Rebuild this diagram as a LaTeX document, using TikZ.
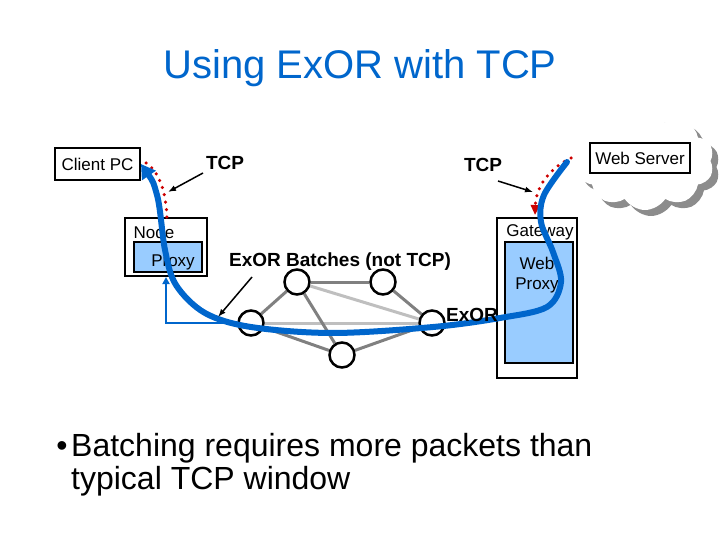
\documentclass[tikz,border=0pt]{standalone}
\usepackage{fontspec}
\setmainfont{Liberation Sans}
\usetikzlibrary{arrows.meta,shapes.symbols,backgrounds}
\definecolor{exorblue}{RGB}{0,102,204}
\definecolor{proxyfill}{RGB}{153,204,255}
\definecolor{dotred}{RGB}{204,0,0}
\tikzset{
  box/.style={draw=black, line width=2pt, inner sep=2pt, align=center, font=\fontsize{17}{20}\selectfont},
  proxybox/.style={box, fill=proxyfill, line width=2.5pt},
  tag/.style={inner sep=0pt, align=center, font=\fontsize{17}{20}\selectfont},
  boldtag/.style={inner sep=0pt, font=\fontsize{19}{22}\selectfont\bfseries},
  hop/.style={circle, draw=black, fill=white, line width=2.5pt, minimum size=25pt, inner sep=0pt},
  link/.style={draw=black!50, line width=3pt},
  weaklink/.style={draw=black!25, line width=3pt},
  flow/.style={exorblue, line width=6pt, {Triangle[length=14pt,width=16pt]}-, line cap=round},
  proxyarrow/.style={exorblue, line width=2pt, -{Triangle[length=7pt,width=7pt]}},
  arrow/.style={-{Latex[length=8pt,width=6pt]}, line width=1.5pt},
  tcpdots/.style={dotred, line width=3.5pt, line cap=round, dash pattern=on 0pt off 7.5pt},
  cloudy/.style={cloud, cloud puffs=10, cloud puff arc=115, minimum width=138pt, minimum height=98pt, inner sep=0pt}
}

\begin{document}
\begin{tikzpicture}[x=1pt, y=-1pt]
\useasboundingbox (0,0) rectangle (720,540);
\node[font=\fontsize{40}{44}\selectfont, text=exorblue] (title) at (360,68) {Using ExOR with TCP};

% web server in the cloud
\node[cloudy, fill=black!45] (cloudshade) at (651,167) {};
\node[cloudy, fill=white] (cloud) at (645,161) {};
\node[box, minimum width=100pt, minimum height=30pt] (server) at (640,158) {Web Server};

% end hosts and proxies
\node[box, minimum width=85pt, minimum height=32pt] (client) at (97.5,164) {Client PC};
\node[box, minimum width=82pt, minimum height=58pt] (nodebox) at (166,247) {};
\node[proxybox, minimum width=68pt, minimum height=30pt] (proxy) at (168,257) {};
\node[tag] (nodetag) at (154,232) {Node};
\node[tag] (proxytag) at (173,262) {Proxy};
\node[box, line width=1.5pt, minimum width=80pt, minimum height=160pt] (gateway) at (537,298) {};
\node[proxybox, line width=2pt, minimum width=68pt, minimum height=121pt] (webproxy) at (539,302.5) {};
\node[tag] (gatewaytag) at (540,232) {Gateway};
\node[tag] (webproxytag) at (537,275) {Web\\Proxy};

% mesh
\node[hop] (h1) at (297,282) {};
\node[hop] (h2) at (383,282) {};
\node[hop] (h3) at (251,323) {};
\node[hop] (h4) at (432,323) {};
\node[hop] (h5) at (342,355) {};
\begin{scope}[on background layer]
\draw[weaklink] (h1) -- (h4);
\draw[weaklink] (h3) -- (h4);
\draw[link] (h1) -- (h2);
\draw[link] (h1) -- (h3);
\draw[link] (h1) -- (h5);
\draw[link] (h2) -- (h4);
\draw[link] (h3) -- (h5);
\draw[link] (h5) -- (h4);
\draw[proxyarrow] (h3) -| (nodebox.south);
\end{scope}

% TCP legs
\draw[tcpdots] (146,163) .. controls (160,172) and (167,195) .. (167,222);
\draw[tcpdots, -{Triangle[length=10pt,width=9pt]}] (571,158) .. controls (550,168) and (536,186) .. (535,215);
\draw[flow] plot[smooth, tension=0.55] coordinates {(client.east) (157,195) (165,250) (176,285) (205,313) (251,327) (333,333) (433,327) (500,318) (547,307) (561,282) (553,252) (541,222) (544,195) (567,162)};

% labels
\node[boldtag] (tcpleft) at (225,163) {TCP};
\node[boldtag] (tcpright) at (483,165) {TCP};
\node[boldtag] (batches) at (340,262) {ExOR Batches (not TCP)};
\node[boldtag] (exortag) at (472,315) {ExOR};
\coordinate (tcplefttail) at (203,173);
\coordinate (tcpleftend) at (168,192);
\coordinate (tcprighttail) at (498,181);
\coordinate (tcprightend) at (533,192);
\coordinate (batchtail) at (252,277);
\coordinate (batchend) at (218,317);
\draw[arrow] (tcplefttail) -- (tcpleftend);
\draw[arrow] (tcprighttail) -- (tcprightend);
\draw[arrow] (batchtail) -- (batchend);

% bullet
\node[font=\fontsize{32}{33}\selectfont] (bullet) at (62,449) {•};
\node[anchor=west, align=left, inner sep=0pt, font=\fontsize{32}{33}\selectfont] (note) at (71,465) {Batching requires more packets than\\typical TCP window};
\end{tikzpicture}
\end{document}
